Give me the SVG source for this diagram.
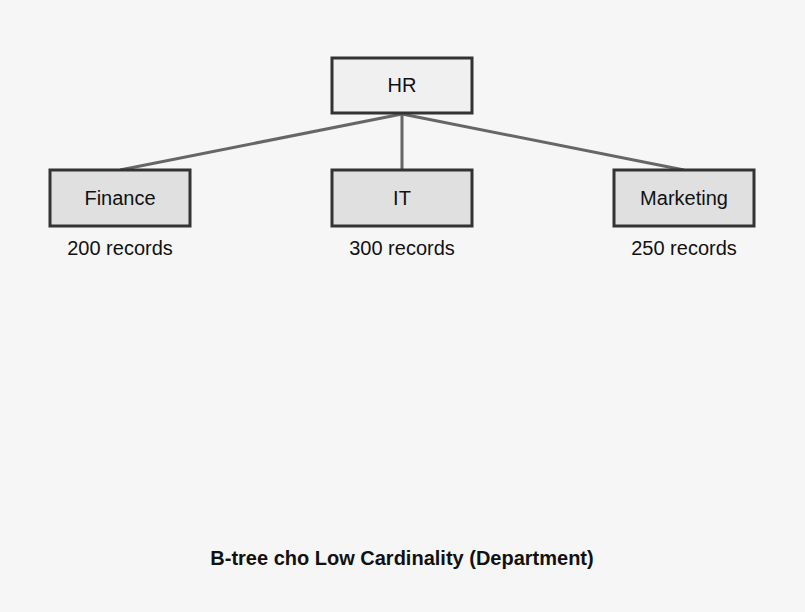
<svg xmlns="http://www.w3.org/2000/svg" width="805" height="612" viewBox="0 0 805 612">
<style>
.bg{fill:#f6f6f6}
.root{fill:#f0f0f0;stroke:#333;stroke-width:3}
.leaf{fill:#e0e0e0;stroke:#333;stroke-width:3}
.lbl{font-family:"Liberation Sans",Arial,sans-serif;font-size:20px;fill:#111;text-anchor:middle}
.title{font-family:"Liberation Sans",Arial,sans-serif;font-size:20px;font-weight:bold;fill:#111;text-anchor:middle}
.edge{stroke:#666;stroke-width:3;fill:none}
</style>
<rect class="bg" x="0" y="0" width="805" height="612"/>
<g id="connectors">
<line class="edge" x1="402" y1="114" x2="120" y2="170"/>
<line class="edge" x1="402" y1="114" x2="402" y2="170"/>
<line class="edge" x1="402" y1="114" x2="684" y2="170"/>
</g>
<g id="node-hr">
<rect class="root" x="332" y="58" width="140" height="55"/>
<text class="lbl" x="402" y="92">HR</text>
</g>
<g id="node-finance">
<rect class="leaf" x="50" y="170" width="140" height="56"/>
<text class="lbl" x="120" y="205">Finance</text>
<text class="lbl" x="120" y="255">200 records</text>
</g>
<g id="node-it">
<rect class="leaf" x="332" y="170" width="140" height="56"/>
<text class="lbl" x="402" y="205">IT</text>
<text class="lbl" x="402" y="255">300 records</text>
</g>
<g id="node-marketing">
<rect class="leaf" x="614" y="170" width="140" height="56"/>
<text class="lbl" x="684" y="205">Marketing</text>
<text class="lbl" x="684" y="255">250 records</text>
</g>
<text class="title" x="402" y="565">B-tree cho Low Cardinality (Department)</text>
</svg>
